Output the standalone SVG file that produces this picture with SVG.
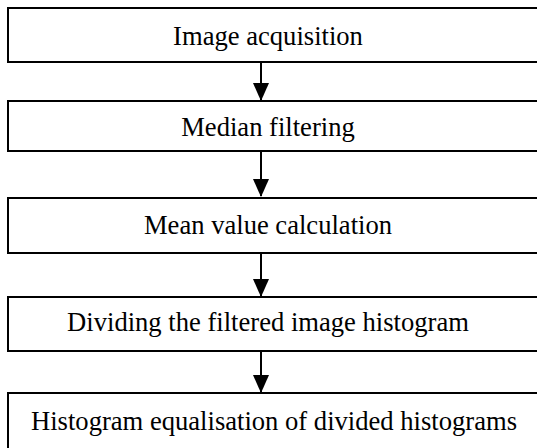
<svg xmlns="http://www.w3.org/2000/svg" width="537" height="448" viewBox="0 0 537 448">
<style>
.box{fill:#fff;stroke:#000;stroke-width:2}
.lbl{font-family:"Liberation Serif","Times New Roman",serif;font-size:26.6px;fill:#000;text-anchor:middle}
.con{stroke:#000;stroke-width:2;fill:none}
</style>
<defs>
<marker id="ah" markerUnits="userSpaceOnUse" markerWidth="18" markerHeight="16" refX="17" refY="8" orient="auto" viewBox="0 0 18 16">
<path d="M0,0 L18,8 L0,16 Z" fill="#000"/>
</marker>
</defs>
<g id="n1"><rect class="box" x="8" y="8" width="540" height="54"/><text class="lbl" x="268" y="45">Image acquisition</text></g>
<g id="n2"><rect class="box" x="8" y="101" width="540" height="50"/><text class="lbl" x="268" y="136">Median filtering</text></g>
<g id="n3"><rect class="box" x="8" y="198" width="540" height="55"/><text class="lbl" x="268" y="234">Mean value calculation</text></g>
<g id="n4"><rect class="box" x="8" y="297" width="540" height="54"/><text class="lbl" x="268" y="331">Dividing the filtered image histogram</text></g>
<g id="n5"><rect class="box" x="8" y="393" width="540" height="70"/><text class="lbl" x="274" y="430">Histogram equalisation of divided histograms</text></g>
<g id="connectors">
<line class="con" x1="261" y1="62" x2="261" y2="100" marker-end="url(#ah)"/>
<line class="con" x1="261" y1="151" x2="261" y2="196" marker-end="url(#ah)"/>
<line class="con" x1="261" y1="253" x2="261" y2="296" marker-end="url(#ah)"/>
<line class="con" x1="261" y1="351" x2="261" y2="392" marker-end="url(#ah)"/>
</g>
</svg>
